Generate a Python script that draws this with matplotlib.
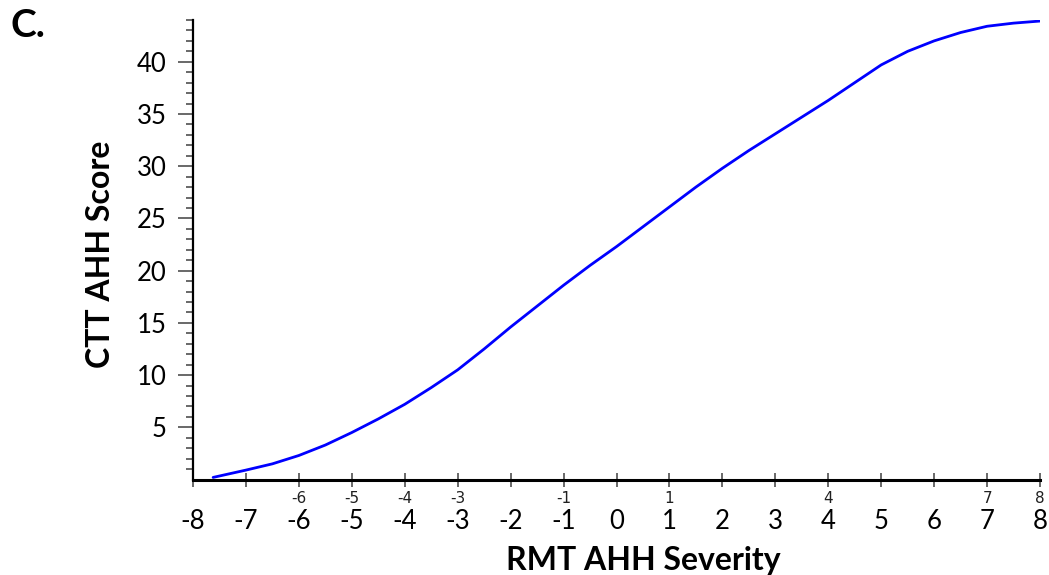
import matplotlib
matplotlib.use("Agg")
import matplotlib.pyplot as plt
from matplotlib.ticker import FixedLocator

plt.rcParams['font.family'] = ['Lato', 'DejaVu Sans']

# data
severity = [-7.62, -7.0, -6.5, -6.0, -5.5, -5.0, -4.5, -4.0, -3.5, -3.0, -2.5, -2.0,
            -1.5, -1.0, -0.5, 0.0, 0.5, 1.0, 1.5, 2.0, 2.5, 3.0, 3.5, 4.0, 4.5,
            5.0, 5.5, 6.0, 6.5, 7.0, 7.5, 8.0]
score = [0.2, 0.9, 1.5, 2.3, 3.3, 4.5, 5.8, 7.2, 8.8, 10.5, 12.5, 14.6,
         16.6, 18.6, 20.5, 22.3, 24.2, 26.1, 28.0, 29.8, 31.5, 33.1, 34.7, 36.3, 38.0,
         39.7, 41.0, 42.0, 42.8, 43.4, 43.7, 43.9]
x_ticks = list(range(-8, 9))
y_ticks = [5, 10, 15, 20, 25, 30, 35, 40]
small_labels = [-6, -5, -4, -3, -1, 1, 4, 7, 8]

W, H = 1049, 575
fig = plt.figure(figsize=(W / 100, H / 100), dpi=100)
ax = fig.add_axes([193 / W, 1 - 479.5 / H, (1040 - 193) / W, (479.5 - 20) / H])

ax.plot(severity, score, color='#0000ff', lw=2.0, solid_capstyle='round')

ax.set_xlim(-8, 8)
ax.set_ylim(0, 44)
for s in ['top', 'right']:
    ax.spines[s].set_visible(False)
ax.spines['bottom'].set_linewidth(2.2)
ax.spines['left'].set_linewidth(1.6)

ax.xaxis.set_major_locator(FixedLocator(x_ticks))
ax.set_xticklabels([str(v) for v in x_ticks])
ax.yaxis.set_major_locator(FixedLocator(y_ticks))
ax.set_yticklabels([str(v) for v in y_ticks])
ax.yaxis.set_minor_locator(FixedLocator([v for v in range(1, 45) if v % 5 != 0]))

ax.tick_params(axis='x', which='major', direction='inout', length=10, width=1.1,
               pad=16, labelsize=18.5, colors='#404040', labelcolor='black')
ax.tick_params(axis='y', which='major', direction='out', length=11, width=1.1,
               pad=8, labelsize=18.5, colors='#404040', labelcolor='black')
ax.tick_params(axis='y', which='minor', direction='out', length=5, width=1.1,
               colors='#404040')

for v in small_labels:
    ax.annotate(str(v), xy=(v, 0), xycoords=('data', 'axes fraction'),
                xytext=(0, -13.5), textcoords='offset points',
                ha='center', va='center', fontsize=11,
                family=['Liberation Sans Narrow', 'DejaVu Sans'],
                color='#202020')

ax.set_xlabel('RMT AHH Severity', fontsize=23, fontweight='bold')
ax.xaxis.set_label_coords(0.532, -0.145)
ax.set_ylabel('CTT AHH Score', fontsize=23, fontweight='bold')
ax.yaxis.set_label_coords(-0.092, 0.49)

fig.text(10 / W, 1 - 8 / H, 'C.', fontsize=28, fontweight='bold', ha='left', va='top')

fig.savefig('out.png', dpi=100, facecolor='white')
